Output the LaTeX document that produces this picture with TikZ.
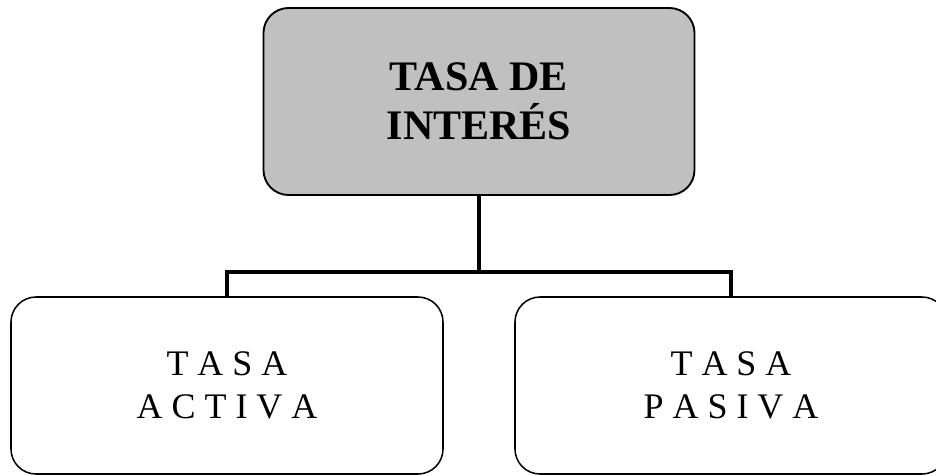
\documentclass[tikz,border=0pt]{standalone}
\usepackage{fontspec}
\setmainfont{Liberation Serif}
\usepackage{tikz}
\usetikzlibrary{calc}
\definecolor{gris}{HTML}{C0C0C0}

\begin{document}
\begin{tikzpicture}[
	caja/.style={draw, rounded corners=0.75cm, align=center, line width=1.6pt},
	sub/.style={caja, line width=1.3pt, minimum width=12.96cm, minimum height=5.31cm,
		font=\fontsize{30.7}{36.7}\selectfont},
	linea/.style={line width=4.2pt}]
	
	\useasboundingbox (0,0) rectangle (28.08,-14.25);
	
	\node[caja, fill=gris, minimum width=12.93cm, minimum height=5.61cm,
		font=\fontsize{35.9}{41.8}\selectfont\bfseries] (t) at (14.37,-3.045)
	{TASA DE\\ INTERÉS};
	
	\node[sub] (a) at (6.81,-11.565) {T A S A\\ A C T I V A};
	
	\node[sub] (p) at (21.93,-11.565) {T A S A\\ P A S I V A};
	
	\coordinate (m) at (14.37,-8.16);
	
	\draw[linea] (t.south) -- (m);
	\draw[linea] (a.north) |- (m) -| (p.north);
	
\end{tikzpicture}
\end{document}
